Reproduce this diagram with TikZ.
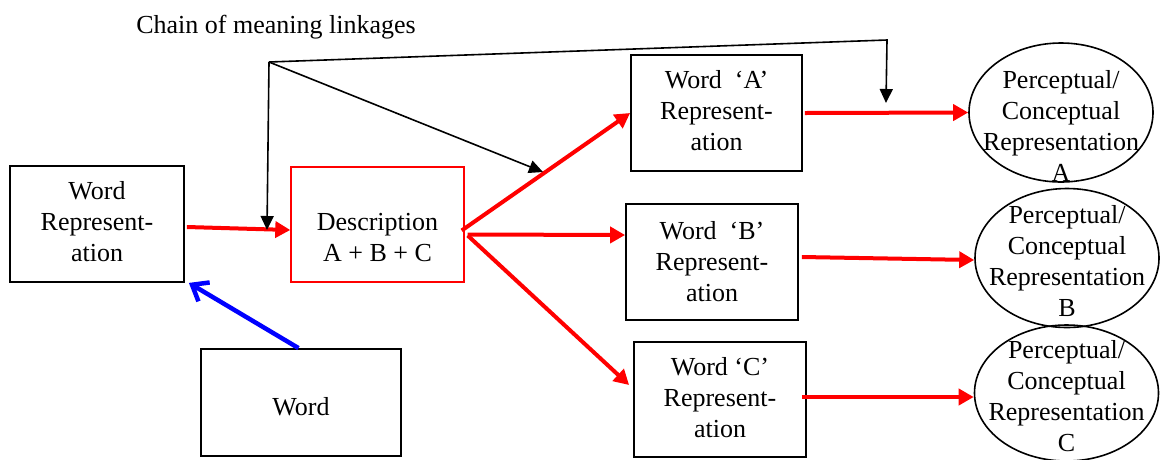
\documentclass[tikz,border=0pt]{standalone}
\usepackage{fontspec}
\setmainfont{Liberation Serif}
\usetikzlibrary{arrows.meta,calc,shapes.geometric}
\tikzset{
 lbl/.style={font=\fontsize{26}{31}\selectfont, align=center, inner sep=0pt},
 bbox/.style={draw=black, line width=1.8pt, rectangle, inner sep=0pt},
 rbox/.style={draw=red, line width=1.4pt, rectangle, inner sep=0pt},
 ell/.style={draw=black, line width=1.6pt, ellipse, inner sep=0pt, minimum width=184pt, minimum height=139pt},
 redarrow/.style={draw=red, line width=4pt, -{Triangle[length=15pt,width=16pt]}},
 blackarrow/.style={draw=black, line width=1.6pt, -{Triangle[length=14pt,width=13pt]}},
 bluearrow/.style={draw=blue, line width=4.5pt, -{Straight Barb[length=14pt,width=22pt]}},
}
\begin{document}
\begin{tikzpicture}[x=1pt,y=-1pt]
\useasboundingbox (0,0) rectangle (1161,459);
% boxes
\node[bbox, minimum width=174pt, minimum height=116pt] (wr) at (97,224) {};
\node[rbox, minimum width=173pt, minimum height=115pt] (desc) at (377.5,224.5) {};
\node[bbox, minimum width=200pt, minimum height=107pt] (word) at (301,402.5) {};
\node[bbox, minimum width=171pt, minimum height=116pt] (wA) at (716.5,113) {};
\node[bbox, minimum width=172pt, minimum height=116pt] (wB) at (712,262) {};
\node[bbox, minimum width=172pt, minimum height=115pt] (wC) at (720,399.5) {};
\node[ell] (eA) at (1061,112.5) {};
\node[ell] (eB) at (1067,258) {};
\node[ell, minimum height=136pt] (eC) at (1066.5,393) {};
% texts
\node[lbl] (chainT) at (276,27) {Chain of meaning linkages};
\node[lbl] (wrT) at ($(wr)+(0,-2)$) {Word\\Represent-\\ation};
\node[lbl] (descT) at ($(desc)+(0,13)$) {Description\\A + B + C};
\node[lbl] (wordT) at ($(word)+(0,4.5)$) {Word};
\node[lbl] (wAT) at ($(wA)+(0,-2)$) {Word\ \ ‘A’\\Represent-\\ation};
\node[lbl] (wBT) at ($(wB)+(0,0)$) {Word\ \ ‘B’\\Represent-\\ation};
\node[lbl] (wCT) at ($(wC)+(0,-1.5)$) {Word ‘C’\\Represent-\\ation};
\node[lbl] (eAT) at ($(eA)+(0,13)$) {Perceptual/\\Conceptual\\Representation\\A};
\node[lbl] (eBT) at ($(eB)+(0,3.5)$) {Perceptual/\\Conceptual\\Representation\\B};
\node[lbl] (eCT) at ($(eC)+(0,3.5)$) {Perceptual/\\Conceptual\\Representation\\C};
% red connectors
\draw[redarrow] ([shift={(2,3)}]wr.east) -- ([shift={(0,5.5)}]desc.west);
\draw[redarrow] ([shift={(-3,6)}]desc.east) -- (wA.west);
\draw[redarrow] ([shift={(3,10)}]desc.east) -- ([shift={(0,-27)}]wB.west);
\draw[redarrow] ([shift={(3,11)}]desc.east) -- ([shift={(-4,-14.5)}]wC.west);
\draw[redarrow] ([shift={(2,0)}]wA.east) -- (eA.west);
\draw[redarrow] ([shift={(3,-5)}]wB.east) -- ([shift={(0,2)}]eB.west);
\draw[redarrow] ([shift={(-5,-2.5)}]wC.east) -- ([shift={(0,4)}]eC.west);
% blue connector
\draw[bluearrow] ([shift={(-2.5,0)}]word.north) -- ([shift={(4,0)}]wr.south east);
% chain of meaning linkages
\coordinate (hub) at (269,62);
\coordinate (bend) at (887,40);
\coordinate (tipTop) at (886,103);
\coordinate (tipL) at (267,230);
\coordinate (tipD) at (543,172);
\draw[blackarrow] (hub) -- (bend) -- (tipTop);
\draw[blackarrow] (hub) -- (tipL);
\draw[blackarrow] (hub) -- (tipD);
\end{tikzpicture}
\end{document}
